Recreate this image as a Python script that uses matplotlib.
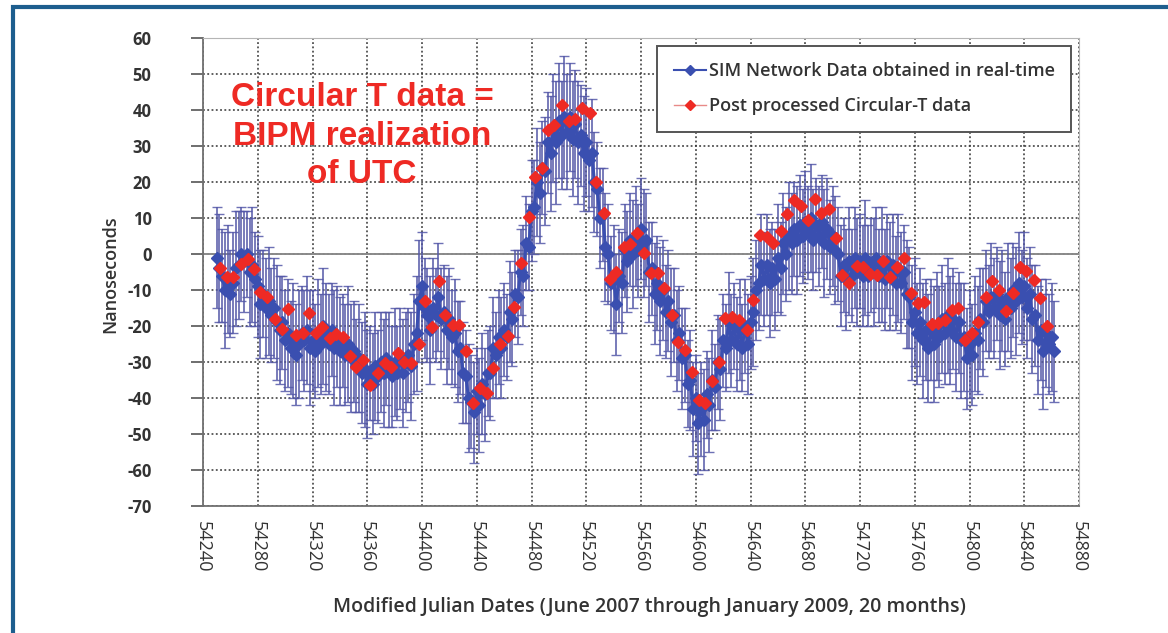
import matplotlib.pyplot as plt
from matplotlib.lines import Line2D
from matplotlib.patches import Rectangle
import numpy as np

plt.rcParams['axes.unicode_minus'] = False

# SIM network real-time data, one reading every 2 days from MJD 54250
sim_start = 54250
sim_step = 2
sim_ns = [
    -1, -4, -6, -10, -7, -11, -8, -4, -3, 0,
    -2, 0, -5, -3, -7, -9, -14, -11, -15, -13,
    -17, -15, -19, -21, -19, -24, -22, -26, -24, -28,
    -25, -22, -24, -21, -26, -24, -27, -22, -25, -20,
    -23, -25, -21, -26, -23, -27, -24, -28, -25, -29,
    -27, -31, -29, -33, -32, -36, -33, -36, -31, -34,
    -30, -33, -29, -32, -34, -30, -33, -29, -33, -30,
    -28, -31, -25, -22, -13, -9, -15, -17, -21, -15,
    -17, -12, -18, -16, -21, -18, -23, -22, -27, -26,
    -33, -34, -40, -41, -44, -38, -42, -36, -39, -33,
    -33, -26, -28, -23, -26, -21, -23, -16, -18, -11,
    -12, -5, -6, 3, 2, 12, 13, 20, 17, 24,
    23, 31, 28, 35, 31, 37, 33, 38, 34, 38,
    32, 36, 31, 33, 28, 31, 26, 28, 20, 18,
    10, 11, 2, 0, -8, -7, -14, -6, -8, 1,
    -2, 4, 0, 5, 1, 7, 3, 4, -5, -4,
    -11, -8, -13, -10, -16, -13, -19, -17, -24, -22,
    -29, -28, -36, -35, -43, -40, -47, -43, -46, -39,
    -42, -35, -37, -30, -32, -24, -26, -19, -24, -20,
    -25, -21, -26, -20, -25, -19, -16, -10, -8, -3,
    -7, -3, -8, -4, -7, -1, -4, 3, 0, 5,
    3, 7, 4, 8, 5, 9, 6, 10, 4, 8,
    5, 9, 3, 7, 2, 5, 1, 0, -6, -3,
    -7, -2, -6, -1, -5, -2, -6, -1, -6, -3,
    -5, -1, -6, -3, -7, -2, -6, -3, -8, -4,
    -8, -5, -11, -12, -19, -16, -22, -19, -24, -21,
    -26, -21, -25, -20, -23, -18, -22, -17, -21, -18,
    -23, -19, -24, -23, -29, -25, -28, -22, -24, -18,
    -19, -13, -16, -12, -15, -11, -17, -13, -18, -12,
    -15, -10, -13, -8, -12, -9, -15, -11, -18, -17,
    -24, -21, -27, -22, -25, -23, -27,
]
sim_err = [
    14, 15, 13, 16, 15, 12, 14, 16, 15, 13,
    14, 12, 15, 16, 13, 14, 15, 12, 14, 15,
    13, 14, 16, 15, 13, 14, 15, 13, 16, 14,
    15, 13, 14, 15, 16, 14, 13, 15, 14, 16,
    15, 14, 13, 16, 14, 15, 13, 14, 16, 15,
    14, 13, 15, 14, 16, 15, 13, 14, 15, 13,
    14, 15, 13, 16, 14, 15, 13, 14, 15, 14,
    13, 15, 14, 16, 17, 15, 14, 13, 15, 14,
    13, 15, 14, 13, 15, 14, 13, 15, 14, 13,
    14, 13, 15, 13, 14, 12, 13, 14, 13, 12,
    13, 14, 12, 13, 14, 13, 12, 14, 13, 12,
    13, 12, 14, 13, 12, 14, 13, 15, 14, 13,
    15, 14, 16, 15, 17, 16, 15, 17, 16, 15,
    16, 15, 17, 14, 16, 15, 14, 15, 14, 13,
    14, 13, 15, 14, 13, 15, 14, 13, 14, 13,
    14, 13, 15, 14, 13, 14, 15, 13, 14, 13,
    14, 13, 15, 14, 13, 14, 15, 13, 14, 13,
    14, 13, 12, 14, 13, 12, 14, 13, 14, 12,
    13, 14, 12, 13, 14, 13, 12, 14, 13, 12,
    13, 14, 12, 13, 14, 13, 15, 14, 13, 14,
    13, 14, 15, 13, 14, 15, 13, 14, 13, 15,
    14, 13, 15, 14, 13, 14, 13, 15, 14, 13,
    14, 13, 15, 14, 13, 14, 15, 13, 14, 13,
    14, 15, 13, 14, 15, 13, 14, 16, 14, 13,
    15, 14, 13, 16, 14, 13, 15, 14, 13, 15,
    14, 13, 15, 14, 16, 15, 14, 15, 16, 14,
    15, 14, 16, 15, 14, 15, 14, 16, 15, 14,
    15, 14, 16, 15, 14, 15, 14, 16, 15, 14,
    15, 14, 13, 15, 14, 13, 15, 14, 13, 15,
    14, 13, 15, 14, 13, 15, 14, 13, 15, 14,
    15, 14, 16, 15, 14, 15, 14,
]

# post processed Circular-T data
circt_mjd = [
    54252.4, 54257.7, 54262.0, 54267.5, 54273.0, 54277.0, 54282.0, 54286.4, 54292.5, 54298.0,
    54302.0, 54308.0, 54312.7, 54317.5, 54322.9, 54327.0, 54332.6, 54337.4, 54342.3, 54347.6,
    54352.0, 54356.8, 54362.2, 54367.8, 54372.7, 54377.5, 54382.3, 54387.2, 54392.0, 54397.7,
    54402.5, 54407.4, 54412.7, 54417.1, 54422.4, 54427.3, 54432.2, 54437.0, 54442.4, 54447.2,
    54452.1, 54457.0, 54462.5, 54467.4, 54472.3, 54477.9, 54482.7, 54487.6, 54492.4, 54496.6,
    54502.2, 54507.5, 54511.9, 54516.8, 54522.6, 54527.0, 54533.0, 54537.2, 54542.0, 54547.6,
    54551.7, 54557.3, 54562.2, 54567.0, 54572.6, 54576.7, 54582.3, 54587.2, 54592.0, 54597.4,
    54602.2, 54607.1, 54612.0, 54616.8, 54621.7, 54626.5, 54631.9, 54637.5, 54641.6, 54647.2,
    54652.0, 54656.2, 54662.5, 54666.6, 54671.8, 54677.1, 54681.9, 54686.8, 54691.7, 54697.0,
    54702.3, 54706.7, 54712.1, 54717.6, 54722.5, 54727.4, 54732.2, 54737.1, 54741.9, 54746.8,
    54752.4, 54757.3, 54762.1, 54767.0, 54772.3, 54777.2, 54782.1, 54786.9, 54791.8, 54796.6,
    54801.5, 54806.4, 54811.7, 54816.5, 54821.4, 54827.0, 54831.8, 54836.7, 54841.5, 54847.1,
    54851.3, 54856.8,
]
circt_ns = [
    -3.9, -6.3, -6.5, -2.8, -1.5, -4.3, -10.5, -11.9, -18.1, -20.9,
    -15.4, -22.5, -22.0, -16.3, -22.0, -20.2, -23.4, -22.2, -23.1, -28.3,
    -31.3, -29.4, -36.4, -33.1, -30.2, -31.5, -27.4, -29.9, -30.2, -25.0,
    -13.0, -20.4, -7.4, -16.9, -19.7, -19.7, -26.9, -41.5, -37.3, -38.5,
    -31.8, -25.0, -22.8, -14.6, -2.4, 10.4, 21.5, 23.8, 34.4, 35.8,
    41.4, 37.0, 37.4, 40.5, 39.3, 20.1, 11.3, -7.0, -4.9, 2.0,
    2.8, 5.7, 0.2, -5.4, -5.2, -9.5, -16.9, -24.4, -26.7, -32.9,
    -40.6, -41.5, -35.2, -29.9, -17.9, -17.6, -18.3, -21.1, -12.8, 5.3,
    4.6, 3.0, 6.5, 11.1, 15.1, 13.3, 9.4, 15.2, 11.3, 12.4,
    4.4, -5.8, -8.0, -3.3, -3.7, -5.6, -5.8, -1.9, -6.3, -3.5,
    -1.2, -10.7, -13.5, -13.2, -19.4, -19.3, -18.3, -15.6, -15.1, -23.9,
    -21.9, -18.8, -12.0, -7.4, -10.0, -15.7, -10.7, -3.7, -4.6, -7.2,
    -12.3, -20.0,
]

sim_mjd = sim_start + sim_step * np.arange(len(sim_ns))

blue = '#3a4fb0'
ebar = '#5458a8'
red = '#ee2a24'
txt = '#333333'
font = 'Open Sans'

fig = plt.figure(figsize=(11.68, 6.33), dpi=100)
fig.patch.set_facecolor('white')
# blue page border
fig.add_artist(Rectangle((13 / 1168, -0.05), 1.2, 1 - 7 / 633 + 0.05,
                         transform=fig.transFigure, fill=False,
                         edgecolor='#1d5e8e', linewidth=3))

ax = fig.add_axes([203 / 1168, 1 - 506 / 633, 876 / 1168, 468 / 633])

ax.errorbar(sim_mjd, sim_ns, yerr=sim_err, fmt='none', ecolor=ebar,
            elinewidth=1.3, capsize=3.5, capthick=1.0, alpha=0.85, zorder=2)
ax.plot(sim_mjd, sim_ns, color=blue, lw=2.2, marker='D', ms=6,
        mec=blue, mfc=blue, zorder=3)
ax.plot(circt_mjd, circt_ns, ls='none', marker='D', ms=6.5,
        mfc=red, mec=red, zorder=4)

ax.set_xlim(54240, 54880)
ax.set_ylim(-70, 60)
ax.set_xticks(np.arange(54240, 54881, 40))
ax.set_yticks(np.arange(-70, 61, 10))
ax.grid(True, ls=(0, (1.2, 1.6)), color='#333333', lw=1.1, zorder=0)
ax.axhline(0, color='#8a8a8a', lw=1.4, zorder=1)
ax.set_axisbelow(True)

for s in ['top', 'right']:
    ax.spines[s].set_color('#b5b5b5')
for s in ['left', 'bottom']:
    ax.spines[s].set_color('#707070')
    ax.spines[s].set_linewidth(1.3)

ax.tick_params(axis='y', length=9, width=1.2, color='#555555', pad=28,
               labelsize=12, labelcolor=txt)
ax.tick_params(axis='x', length=0, pad=11, labelsize=13, labelcolor=txt)
for lab in ax.get_yticklabels():
    lab.set_fontfamily(font)
    lab.set_fontweight('bold')
for lab in ax.get_xticklabels():
    lab.set_fontfamily(font)
    lab.set_rotation(270)
    lab.set_va('top')
    lab.set_ha('center')

fig.text(110 / 1168, 1 - 274 / 633, 'Nanoseconds', rotation=90, ha='center',
         va='center', fontsize=13, fontweight='semibold', family=font, color=txt)
fig.text(649 / 1168, 1 - 607 / 633,
         'Modified Julian Dates (June 2007 through January 2009, 20 months)',
         ha='center', va='center', fontsize=14, fontweight='semibold',
         family=font, color=txt)

fig.text(362 / 1168, 1 - 82 / 633, 'Circular T data =\nBIPM realization\nof UTC',
         ha='center', va='top', fontsize=24, fontweight='bold',
         family='Liberation Sans', color=red, linespacing=1.32, zorder=6)

handles = [
    Line2D([], [], color=blue, lw=1.5, marker='D', ms=5, mfc=blue, mec=blue),
    Line2D([], [], color='#e88a88', lw=1.0, marker='D', ms=5.5, mfc=red, mec=red),
]
leg = ax.legend(handles, ['SIM Network Data obtained in real-time',
                          'Post processed Circular-T data'],
                loc='upper right', bbox_to_anchor=(0.991, 0.983),
                prop={'family': font, 'size': 13, 'weight': 'semibold'},
                frameon=True, fancybox=False, framealpha=1,
                edgecolor='#555555', labelspacing=0.95, handlelength=1.8,
                handletextpad=0.15, borderpad=0.9, borderaxespad=0)
leg.get_frame().set_linewidth(1.4)
for t in leg.get_texts():
    t.set_color(txt)

fig.savefig('out.png', dpi=100)
